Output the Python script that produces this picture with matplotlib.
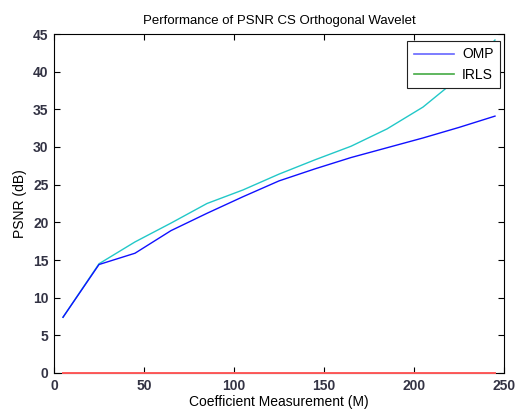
import matplotlib
matplotlib.use("Agg")
import matplotlib.pyplot as plt
from matplotlib.lines import Line2D
import numpy as np

# coefficient measurements (M)
m_vals = [5, 25, 45, 65, 85, 105, 125, 145, 165, 185, 205, 225, 245]
psnr_omp = [7.4, 14.4, 15.9, 18.9, 21.2, 23.4, 25.5, 27.1, 28.6, 29.9, 31.2, 32.6, 34.1]
psnr_irls = [7.4, 14.5, 17.4, 19.9, 22.5, 24.3, 26.4, 28.3, 30.1, 32.4, 35.3, 39.2, 44.2]
psnr_zero = [0] * len(m_vals)

plt.rcParams['font.family'] = ['Liberation Sans', 'DejaVu Sans']

fig = plt.figure(figsize=(5.16, 4.09), dpi=100)
ax = fig.add_axes([54/516, 1 - 373/409, 450/516, 339/409])

ax.plot(m_vals, psnr_irls, color='#22c8c8', linewidth=1.0)
ax.plot(m_vals, psnr_omp, color='#1010ff', linewidth=1.0)
ax.plot(m_vals, psnr_zero, color='#ff5a5a', linewidth=1.4, clip_on=False, zorder=3)

ax.set_xlim(0, 250)
ax.set_ylim(0, 45)
ax.set_xticks(np.arange(0, 251, 50))
ax.set_yticks(np.arange(0, 46, 5))
ax.tick_params(direction='in', top=True, right=True, length=4, width=0.8,
               labelsize=10, labelcolor='#333344', pad=4)
for lab in ax.get_xticklabels() + ax.get_yticklabels():
    lab.set_fontweight('bold')

ax.set_title('Performance of PSNR CS Orthogonal Wavelet', fontsize=9.5, pad=7)
ax.set_xlabel('Coefficient Measurement (M)', fontsize=10, labelpad=2)
ax.set_ylabel('PSNR (dB)', fontsize=10, labelpad=4)

handles = [Line2D([], [], color='#6666ff', linewidth=1.2),
           Line2D([], [], color='#44aa44', linewidth=1.2)]
leg = ax.legend(handles, ['OMP', 'IRLS'], loc='upper right',
                bbox_to_anchor=(0.991, 0.979), borderaxespad=0,
                fontsize=10, fancybox=False, edgecolor='#222222', framealpha=1,
                handlelength=2.9, handletextpad=0.6, borderpad=0.45,
                labelspacing=0.45)
leg.get_frame().set_linewidth(0.8)

fig.savefig('out.png', dpi=100)
